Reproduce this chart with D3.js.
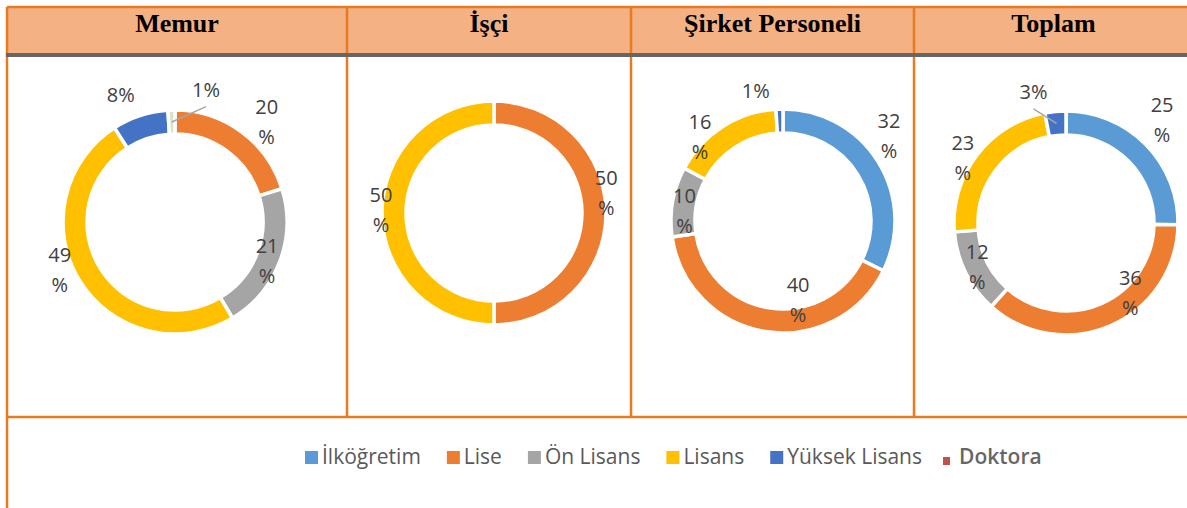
<!DOCTYPE html>
<html>
<head>
<meta charset="utf-8">
<script src="https://cdn.jsdelivr.net/npm/d3@7"></script>
<style>
  body{margin:0;background:#fff;}
  svg text{font-family:"Open Sans","Noto Sans",sans-serif;}
</style>
</head>
<body>
<div id="chart"></div>
<script>
// egitim durumu kategorileri ve paneller
const categories = ["İlköğretim","Lise","Ön Lisans","Lisans","Yüksek Lisans","Doktora"];
const panels = ["Memur","İşçi","Şirket Personeli","Toplam"];
const memurVals  = [0,20,21,49,8,1];
const isciVals   = [0,50,0,50,0,0];
const sirketVals = [32,40,10,16,1,0];
const toplamVals = [25,36,12,23,3,0];
const colors = ["#5b9bd5","#ed7d31","#a5a5a5","#ffc000","#4472c4","#d5e6c8"];
const legendColors = ["#5b9bd5","#ed7d31","#a5a5a5","#ffc000","#4472c4","#c0504d"];

(function(){
  const W=1187,H=508,ORANGE="#e87a22";
  const colX=[7,347,631,914,1193];
  const HEAD_TOP=7,HEAD_BOT=55,ROW_BOT=417;
  const R=112,R0=88;
  // donut merkezleri (elle yerlestirilmis grafikler)
  const centers=[[175,222],[494,213],[783,221],[1066,223]];
  // etiket yeri: [yaricap, aci kaydirma (derece), kilavuz cizgi]
  const labelPlace=[
    [null,[136,6],[100,2],[125,9],[138,-5],[136,15,true]],
    [null,[114,-10],null,[113,1.5],null,null],
    [[136,-7],[80,-20],[99,-4],[118,-12],[133,-10],null],
    [[141,-2.5],[95,-19],[99,0],[122,-5],[135,-8.5,true],null]
  ];
  const series=[memurVals,isciVals,sirketVals,toplamVals];

  const svg=d3.select('#chart').append('svg')
    .attr('width',W).attr('height',H);

  // tablo basligi
  svg.append('rect').attr('x',colX[0]).attr('y',HEAD_TOP)
    .attr('width',W-colX[0]).attr('height',HEAD_BOT-HEAD_TOP).attr('fill','#f4b183');
  svg.selectAll('text.head').data(panels).enter().append('text')
    .attr('class','head')
    .attr('x',(d,i)=>(colX[i]+colX[i+1])/2).attr('y',32)
    .attr('text-anchor','middle')
    .style('font-family','"Liberation Serif","Times New Roman",serif')
    .style('font-weight','bold').style('font-size','26px').attr('fill','#000')
    .text(d=>d);

  // cizgiler
  const g=svg.append('g').attr('stroke',ORANGE).attr('stroke-width',2.5);
  g.append('line').attr('x1',colX[0]).attr('x2',W).attr('y1',HEAD_TOP).attr('y2',HEAD_TOP);
  g.append('line').attr('x1',colX[0]).attr('x2',colX[0]).attr('y1',HEAD_TOP).attr('y2',H);
  colX.slice(1,4).forEach(x=>{
    g.append('line').attr('x1',x).attr('x2',x).attr('y1',HEAD_TOP).attr('y2',ROW_BOT);
  });
  g.append('line').attr('x1',colX[0]).attr('x2',W).attr('y1',ROW_BOT).attr('y2',ROW_BOT);
  svg.append('line').attr('x1',colX[0]-1).attr('x2',W).attr('y1',HEAD_BOT).attr('y2',HEAD_BOT)
    .attr('stroke','#666').attr('stroke-width',4);

  const pie=d3.pie().sort(null).value(d=>d);
  const arc=d3.arc().innerRadius(R0).outerRadius(R);

  series.forEach((vals,pi)=>{
    const [cx,cy]=centers[pi];
    const arcs=pie(vals);
    const pg=svg.append('g').attr('transform',`translate(${cx},${cy})`);
    pg.selectAll('path').data(arcs.filter(a=>a.value>0)).enter().append('path')
      .attr('d',arc)
      .attr('fill',d=>colors[d.index])
      .attr('stroke','#fff').attr('stroke-width',3.5).attr('stroke-linejoin','miter');

    arcs.forEach((a,i)=>{
      const lp=labelPlace[pi][i];
      if(!lp||a.value<=0) return;
      const ang=(a.startAngle+a.endAngle)/2+lp[1]*Math.PI/180;
      const lx=lp[0]*Math.sin(ang), ly=-lp[0]*Math.cos(ang);
      if(lp[2]){
        const mid=(a.startAngle+a.endAngle)/2, mr=(R+R0)/2;
        pg.append('line')
          .attr('x1',lx).attr('y1',ly+17)
          .attr('x2',mr*Math.sin(mid)).attr('y2',-mr*Math.cos(mid))
          .attr('stroke','#a6a6a6').attr('stroke-width',1.5);
      }
      const t=pg.append('text').attr('text-anchor','middle')
        .attr('fill','#404040').style('font-size','20px');
      if(a.value>=10){
        t.append('tspan').attr('x',lx).attr('y',ly-15+7).text(a.value);
        t.append('tspan').attr('x',lx).attr('y',ly+15+7).text('%');
      } else {
        t.append('tspan').attr('x',lx).attr('y',ly+7).text(a.value+'%');
      }
    });
  });

  // lejant
  const lg=svg.append('g');
  let x=305;
  categories.forEach((c,i)=>{
    const last=i===categories.length-1;
    const s=last?7:13;
    lg.append('rect').attr('x',x).attr('y',last?457:451)
      .attr('width',s).attr('height',last?8:13).attr('fill',legendColors[i]);
    x+=s+(last?9:4);
    const t=lg.append('text').attr('x',x).attr('y',464)
      .attr('fill',last?'#666':'#595959')
      .style('font-size','21px')
      .style('font-weight',last?'600':'normal')
      .text(c);
    x+=t.node().getComputedTextLength()+ (i===4?21:26);
  });
})();
</script>
</body>
</html>
